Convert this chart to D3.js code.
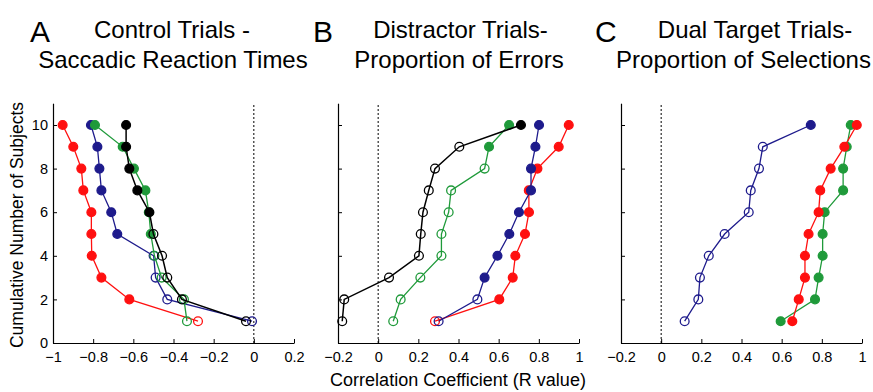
<!DOCTYPE html>
<html>
<head>
<meta charset="utf-8">
<script src="https://cdn.jsdelivr.net/npm/d3@7"></script>
<style>
  body { margin: 0; background: #fff; }
  text { font-family: "Liberation Sans", Arial, Helvetica, sans-serif; fill: #000; }
</style>
</head>
<body>
<div id="chart"></div>
<script>
// rank of subject (y), values are R per subject sorted by rank
const ranks = [1, 2, 3, 4, 5, 6, 7, 8, 9, 10];

// A - control trials, saccadic reaction times
const aRed = [-0.278, -0.620, -0.759, -0.807, -0.809, -0.809, -0.849, -0.859, -0.899, -0.952];
const aRedSig = [0, 1, 1, 1, 1, 1, 1, 1, 1, 1];
const aBlue = [-0.009, -0.431, -0.489, -0.499, -0.680, -0.710, -0.759, -0.769, -0.779, -0.811];
const aBlueSig = [0, 0, 0, 0, 1, 1, 1, 1, 1, 1];
const aGreen = [-0.333, -0.348, -0.459, -0.495, -0.513, -0.523, -0.540, -0.597, -0.653, -0.791];
const aGreenSig = [0, 0, 0, 0, 1, 1, 1, 1, 1, 1];
const aBlack = [-0.039, -0.358, -0.431, -0.457, -0.500, -0.520, -0.580, -0.620, -0.636, -0.636];
const aBlackSig = [0, 0, 0, 0, 0, 1, 1, 1, 1, 1];

// B - distractor trials, proportion of errors
const bRed = [0.283, 0.603, 0.670, 0.683, 0.731, 0.751, 0.750, 0.793, 0.899, 0.949];
const bRedSig = [0, 1, 1, 1, 1, 1, 1, 1, 1, 1];
const bBlue = [0.301, 0.494, 0.530, 0.594, 0.653, 0.701, 0.761, 0.761, 0.783, 0.801];
const bBlueSig = [0, 0, 1, 1, 1, 1, 1, 1, 1, 1];
const bGreen = [0.075, 0.112, 0.210, 0.315, 0.315, 0.351, 0.363, 0.530, 0.552, 0.652];
const bGreenSig = [0, 0, 0, 0, 0, 0, 0, 0, 1, 1];
const bBlack = [-0.179, -0.169, 0.054, 0.203, 0.212, 0.223, 0.252, 0.283, 0.404, 0.711];
const bBlackSig = [0, 0, 0, 0, 0, 0, 0, 0, 0, 1];

// C - dual target trials, proportion of selections
const cRed = [0.653, 0.685, 0.716, 0.716, 0.734, 0.784, 0.792, 0.844, 0.912, 0.974];
const cRedSig = [1, 1, 1, 1, 1, 1, 1, 1, 1, 1];
const cGreen = [0.595, 0.766, 0.784, 0.804, 0.804, 0.814, 0.906, 0.906, 0.924, 0.944];
const cGreenSig = [1, 1, 1, 1, 1, 1, 1, 1, 1, 1];
const cBlue = [0.117, 0.185, 0.193, 0.237, 0.316, 0.436, 0.446, 0.487, 0.506, 0.745];
const cBlueSig = [0, 0, 0, 0, 0, 0, 0, 0, 0, 1];

const xTicksA = [-1, -0.8, -0.6, -0.4, -0.2, 0, 0.2];
const xLabelsA = ["\u22121", "\u22120.8", "\u22120.6", "\u22120.4", "\u22120.2", "0", "0.2"];
const xTicksBC = [-0.2, 0, 0.2, 0.4, 0.6, 0.8, 1];
const xLabelsBC = ["\u22120.2", "0", "0.2", "0.4", "0.6", "0.8", "1"];
const yTicks = [0, 2, 4, 6, 8, 10];

const colors = { red: "#ff1010", blue: "#1e1b8c", green: "#1f9a3a", black: "#000" };

const width = 873;
const height = 392;

const svg = d3.select("#chart")
    .append("svg")
    .attr("width", width)
    .attr("height", height)
    .attr("viewBox", [0, 0, width, height]);

svg.append("rect").attr("width", width).attr("height", height).attr("fill", "#fff");

const y = d3.scaleLinear().domain([0, 11]).range([343, 103.2]);

function drawPanel(p) {
    const x = d3.scaleLinear().domain(p.domain).range(p.range);

    // axes, ticks pointing inward
    const gx = svg.append("g")
        .attr("transform", `translate(0,${y(0)})`)
        .call(d3.axisBottom(x).tickValues(p.xTicks)
            .tickFormat((d, i) => p.xLabels[i])
            .tickSizeInner(-4).tickSizeOuter(0).tickPadding(9));
    gx.selectAll("text").attr("font-size", 14.5).attr("font-family", null);
    gx.select(".domain").attr("stroke", "#000").attr("stroke-width", 1.2);

    const gy = svg.append("g")
        .attr("transform", `translate(${p.range[0]},0)`)
        .call(d3.axisLeft(y).tickValues(yTicks)
            .tickFormat(p.yLabels ? d3.format("d") : "")
            .tickSizeInner(-4).tickSizeOuter(0).tickPadding(5));
    gy.selectAll("text").attr("font-size", 14.5).attr("font-family", null);
    gy.select(".domain").attr("stroke", "#000").attr("stroke-width", 1.2);

    // zero line
    svg.append("line")
        .attr("x1", x(0)).attr("x2", x(0))
        .attr("y1", y(0)).attr("y2", y(11))
        .attr("stroke", "#000")
        .attr("stroke-width", 1)
        .attr("stroke-dasharray", "2,2");

    const line = d3.line()
        .x((d) => x(d.r))
        .y((d) => y(d.n));

    p.series.forEach((s) => {
        const pts = ranks.map((n, i) => ({ n: n, r: s.values[i], sig: s.sig[i] }));
        svg.append("path")
            .datum(pts)
            .attr("fill", "none")
            .attr("stroke", s.color)
            .attr("stroke-width", s.color === "#000" ? 1.5 : 1.3)
            .attr("d", line);
        svg.append("g")
            .selectAll("circle")
            .data(pts)
            .enter()
            .append("circle")
            .attr("cx", (d) => x(d.r))
            .attr("cy", (d) => y(d.n))
            .attr("r", 4.4)
            .attr("fill", (d) => d.sig ? s.color : "none")
            .attr("stroke", s.color)
            .attr("stroke-width", 1.3);
    });

    svg.append("text")
        .attr("x", p.letterX)
        .attr("y", 42)
        .attr("font-size", 30)
        .text(p.letter);

    p.title.forEach((t, i) => {
        svg.append("text")
            .attr("x", p.titleX[i])
            .attr("y", 38 + i * 30)
            .attr("text-anchor", "middle")
            .attr("font-size", 24)
            .text(t);
    });
}

drawPanel({
    domain: [-1, 0.2], range: [53, 294],
    xTicks: xTicksA, xLabels: xLabelsA, yLabels: true,
    letter: "A", letterX: 30,
    title: ["Control Trials -", "Saccadic Reaction Times"], titleX: [172, 173],
    series: [
        { values: aRed, sig: aRedSig, color: colors.red },
        { values: aBlue, sig: aBlueSig, color: colors.blue },
        { values: aGreen, sig: aGreenSig, color: colors.green },
        { values: aBlack, sig: aBlackSig, color: colors.black }
    ]
});

drawPanel({
    domain: [-0.2, 1], range: [338, 579],
    xTicks: xTicksBC, xLabels: xLabelsBC, yLabels: false,
    letter: "B", letterX: 313,
    title: ["Distractor Trials-", "Proportion of Errors"], titleX: [460.5, 459],
    series: [
        { values: bRed, sig: bRedSig, color: colors.red },
        { values: bBlue, sig: bBlueSig, color: colors.blue },
        { values: bGreen, sig: bGreenSig, color: colors.green },
        { values: bBlack, sig: bBlackSig, color: colors.black }
    ]
});

drawPanel({
    domain: [-0.2, 1], range: [621, 862],
    xTicks: xTicksBC, xLabels: xLabelsBC, yLabels: false,
    letter: "C", letterX: 595,
    title: ["Dual Target Trials-", "Proportion of Selections"], titleX: [755, 743.5],
    series: [
        { values: cGreen, sig: cGreenSig, color: colors.green },
        { values: cRed, sig: cRedSig, color: colors.red },
        { values: cBlue, sig: cBlueSig, color: colors.blue }
    ]
});

svg.append("text")
    .attr("x", 458)
    .attr("y", 386)
    .attr("text-anchor", "middle")
    .attr("font-size", 18)
    .text("Correlation Coefficient (R value)");

svg.append("text")
    .attr("transform", "translate(23,225) rotate(-90)")
    .attr("text-anchor", "middle")
    .attr("font-size", 17.5)
    .text("Cumulative Number of Subjects");
</script>
</body>
</html>
